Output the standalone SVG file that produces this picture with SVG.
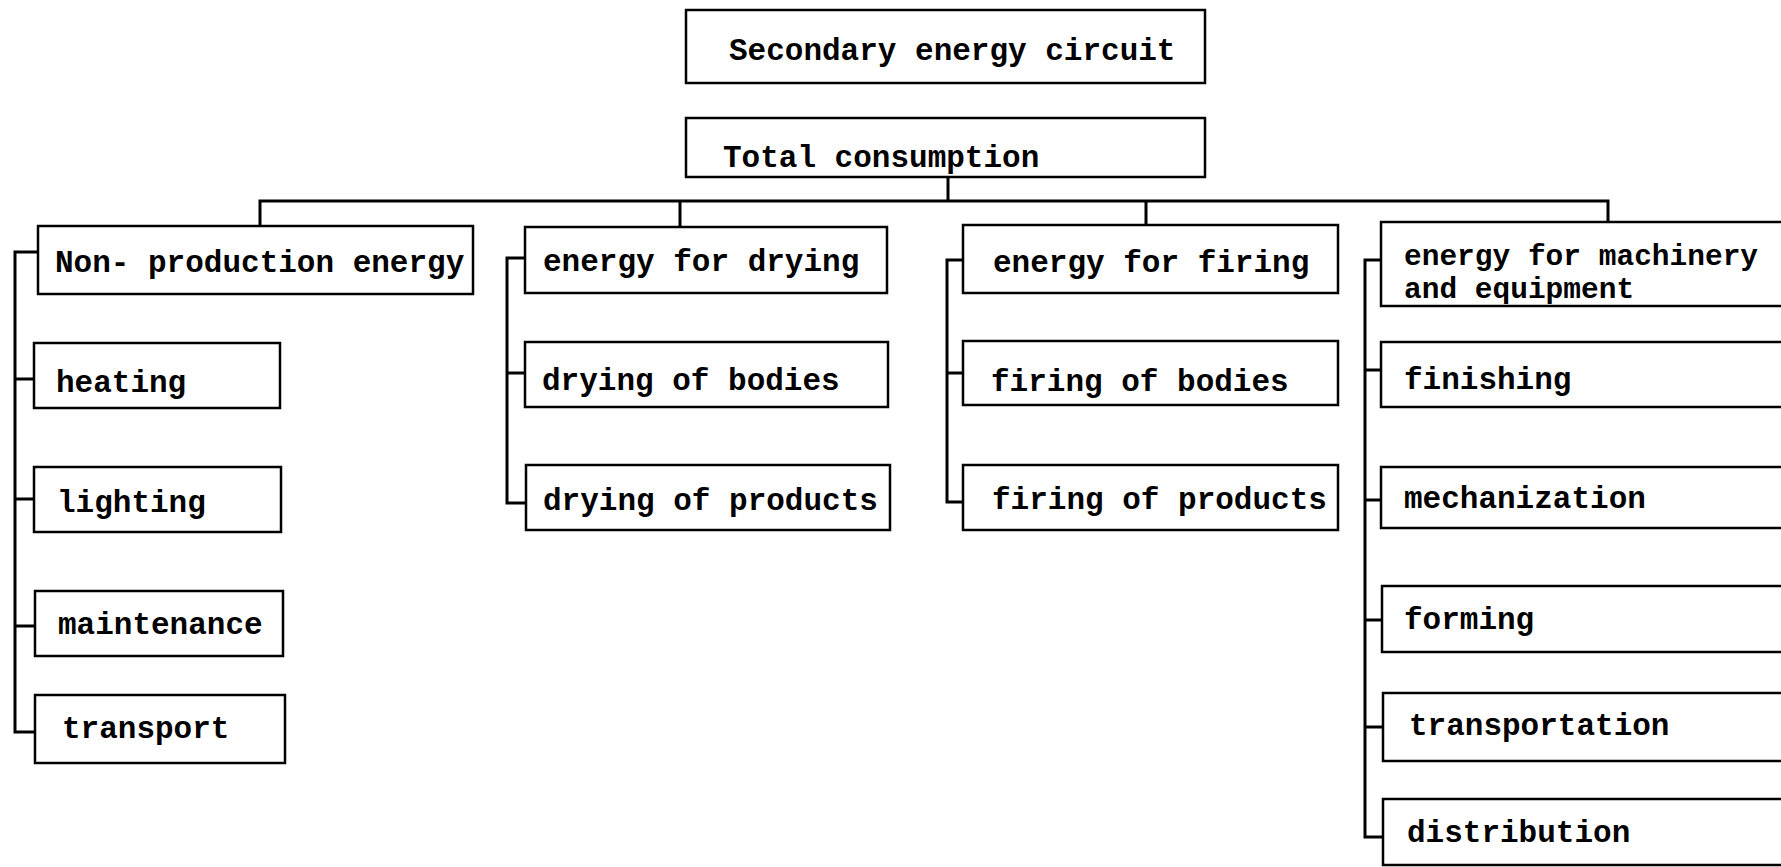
<svg xmlns="http://www.w3.org/2000/svg" width="1781" height="867" viewBox="0 0 1781 867">
<style>
.box{fill:#fff;stroke:#000;stroke-width:2.5}
.t{font-family:"Liberation Mono","Courier New",monospace;font-weight:bold;font-size:31px;fill:#000}
.s{font-size:29.5px}
.c{fill:none;stroke:#000;stroke-width:3;stroke-linejoin:miter}
</style>
<rect width="1781" height="867" fill="#fff"/>
<g id="connectors">
<path class="c" d="M948,177 V201 M260,226 V201 H1608 V222 M680,201 V227 M1146,201 V225"/>
<path class="c" d="M38,252 H15 V732 H35 M15,379 H34 M15,499 H34 M15,626 H35"/>
<path class="c" d="M525,258 H507 V503 H526 M507,373 H525"/>
<path class="c" d="M963,260 H947 V502 H963 M947,373 H963"/>
<path class="c" d="M1381,260 H1365 V837 H1383 M1365,370 H1381 M1365,500 H1381 M1365,620 H1382 M1365,727 H1383"/>
</g>
<g id="n-secondary"><rect class="box" x="686" y="10" width="519" height="73"/><text class="t" x="729" y="60">Secondary energy circuit</text></g>
<g id="n-total"><rect class="box" x="686" y="118" width="519" height="59"/><text class="t" x="723" y="167">Total consumption</text></g>
<g id="n-nonprod"><rect class="box" x="38" y="226" width="435" height="68"/><text class="t" x="55" y="272">Non- production energy</text></g>
<g id="n-heating"><rect class="box" x="34" y="343" width="246" height="65"/><text class="t" x="56" y="392">heating</text></g>
<g id="n-lighting"><rect class="box" x="34" y="467" width="247" height="65"/><text class="t" x="57" y="512">lighting</text></g>
<g id="n-maintenance"><rect class="box" x="35" y="591" width="248" height="65"/><text class="t" x="58" y="634">maintenance</text></g>
<g id="n-transport"><rect class="box" x="35" y="695" width="250" height="68"/><text class="t" x="62" y="738">transport</text></g>
<g id="n-drying"><rect class="box" x="525" y="227" width="362" height="66"/><text class="t" x="543" y="271">energy for drying</text></g>
<g id="n-drying-bodies"><rect class="box" x="525" y="342" width="363" height="65"/><text class="t" x="542" y="390">drying of bodies</text></g>
<g id="n-drying-products"><rect class="box" x="526" y="465" width="364" height="65"/><text class="t" x="543" y="510">drying of products</text></g>
<g id="n-firing"><rect class="box" x="963" y="225" width="375" height="68"/><text class="t" x="993" y="272">energy for firing</text></g>
<g id="n-firing-bodies"><rect class="box" x="963" y="341" width="375" height="64"/><text class="t" x="991" y="391">firing of bodies</text></g>
<g id="n-firing-products"><rect class="box" x="963" y="465" width="375" height="65"/><text class="t" x="992" y="509">firing of products</text></g>
<g id="n-machinery"><rect class="box" x="1381" y="222" width="430" height="84"/><text class="t s" x="1404" y="265">energy for machinery</text><text class="t s" x="1404" y="298">and equipment</text></g>
<g id="n-finishing"><rect class="box" x="1381" y="342" width="430" height="65"/><text class="t" x="1404" y="389">finishing</text></g>
<g id="n-mechanization"><rect class="box" x="1381" y="467" width="430" height="61"/><text class="t" x="1404" y="508">mechanization</text></g>
<g id="n-forming"><rect class="box" x="1382" y="586" width="430" height="66"/><text class="t" x="1404" y="629">forming</text></g>
<g id="n-transportation"><rect class="box" x="1383" y="693" width="430" height="68"/><text class="t" x="1409" y="735">transportation</text></g>
<g id="n-distribution"><rect class="box" x="1383" y="799" width="430" height="66"/><text class="t" x="1407" y="842">distribution</text></g>
</svg>
